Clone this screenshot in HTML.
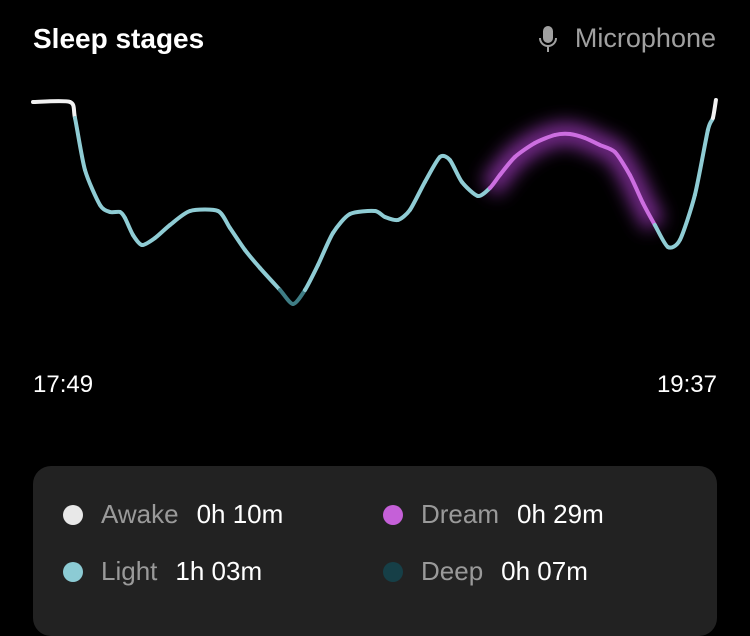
<!DOCTYPE html>
<html><head><meta charset="utf-8"><style>
body{margin:0;width:750px;height:619px;background:#000;overflow:hidden;font-family:"Liberation Sans",sans-serif;color:#fff;position:relative}
.abs{position:absolute}
#title{left:33px;top:23px;font-size:28px;font-weight:bold}
#mic{right:34px;top:23px;font-size:27px;color:#a0a0a0;display:flex;align-items:center;gap:18px}
.time{top:371px;font-size:24px}
#legend{left:33px;top:466px;width:684px;height:170px;background:#222;border-radius:18px}
.item{position:absolute;display:flex;align-items:center;font-size:26px}
.dot{width:20px;height:20px;border-radius:50%;margin-right:18px}
.lab{color:#9a9a9a;margin-right:18px}
</style></head><body>
<div id="title" class="abs">Sleep stages</div>
<div id="mic" class="abs">
<svg width="18" height="28" viewBox="0 0 18 28"><rect x="4" y="1" width="10" height="17" rx="5" fill="#a0a0a0"/><path d="M1 13 a8 8 0 0 0 16 0" stroke="#a0a0a0" stroke-width="2" fill="none"/><rect x="8" y="21" width="2" height="6" fill="#a0a0a0"/></svg>
<span>Microphone</span></div>
<svg id="chart" class="abs" style="left:0;top:0" width="750" height="360">
<defs>
<filter id="glow" x="-30%" y="-50%" width="160%" height="200%"><feGaussianBlur stdDeviation="9"/></filter>
</defs>
<g id="marks"></g>
</svg>
<div class="abs time" style="left:33px">17:49</div>
<div class="abs time" style="right:33px">19:37</div>
<div id="legend" class="abs">
<div class="item" style="left:30px;top:33px"><div class="dot" style="background:#e8e8e8"></div><span class="lab">Awake</span><span>0h 10m</span></div>
<div class="item" style="left:350px;top:33px"><div class="dot" style="background:#c560d8"></div><span class="lab">Dream</span><span>0h 29m</span></div>
<div class="item" style="left:30px;top:90px"><div class="dot" style="background:#8ccbd4"></div><span class="lab">Light</span><span>1h 03m</span></div>
<div class="item" style="left:350px;top:90px"><div class="dot" style="background:#163f47"></div><span class="lab">Deep</span><span>0h 07m</span></div>
</div>
<script>
// minutes since 17:49 and sleep depth (0 = awake, higher = deeper)
const times=[0,5.85,6.64,8.22,10.59,12.18,13.76,14.55,15.81,17.24,19.29,21.66,24.83,29.25,31.15,33.52,35.89,39.06,41.11,43.01,45.06,47.43,50.12,54.07,55.65,57.7,59.6,61.97,64.34,65.92,67.82,70.35,72.25,73.83,76.2,79.36,82.52,84.89,87.27,89.64,92.01,94.38,96.44,98.33,100.39,102.29,104.66,106.72,107.51,107.99];
const depths=[1,1,9,35,52.5,56,56,59,67.5,72.5,69,62.5,55.5,55.5,64,75,84,95,102,95,82.5,66.5,57,55.5,58.5,60,55,41,28.5,30,41,48,44,37.5,28.5,21.5,17.5,17,19,22.5,26,37.5,51.5,62.5,73.5,70,47.5,15,9,0];
const stages=["awake","awake","light","light","light","light","light","light","light","light","light","light","light","light","light","light","light","light","deep","light","light","light","light","light","light","light","light","light","light","light","light","light","light","dream","dream","dream","dream","dream","dream","dream","dream","dream","dream","light","light","light","light","light","light","awake"];
const X=t=>33+t*683/108, Y=d=>100+d*2;
const colors={awake:"#f2f2f2",light:"#8fccd4",dream:"#cc6ee0",deep:"#3f7d85"};
const prio={awake:3,dream:2,deep:1,light:0};
const pts=times.map((t,i)=>[X(t),Y(depths[i])]);
function seg(i){const p0=pts[Math.max(i-1,0)],p1=pts[i],p2=pts[i+1],p3=pts[Math.min(i+2,pts.length-1)];
const k=8;const c1=[p1[0]+(p2[0]-p0[0])/k,p1[1]+(p2[1]-p0[1])/k],c2=[p2[0]-(p3[0]-p1[0])/k,p2[1]-(p3[1]-p1[1])/k];
return `M${p1[0]},${p1[1]} C${c1[0]},${c1[1]} ${c2[0]},${c2[1]} ${p2[0]},${p2[1]}`;}
const g=document.getElementById('marks');const NS="http://www.w3.org/2000/svg";
let gd="";for(let i=0;i<pts.length-1;i++){if(stages[i]==="dream"||stages[i+1]==="dream")gd+=seg(i);}
const glow=document.createElementNS(NS,'path');glow.setAttribute('d',gd);glow.setAttribute('stroke','#b040d0');glow.setAttribute('stroke-width','22');glow.setAttribute('fill','none');glow.setAttribute('opacity','0.7');glow.setAttribute('filter','url(#glow)');


g.appendChild(glow);
for(let i=0;i<pts.length-1;i++){
 const a=stages[i],b=stages[i+1];const st=prio[a]>=prio[b]?a:b;
 const p=document.createElementNS(NS,'path');p.setAttribute('d',seg(i));p.setAttribute('stroke',colors[st]);p.setAttribute('stroke-width','4');p.setAttribute('fill','none');p.setAttribute('stroke-linecap','round');
 
 
 g.appendChild(p);}
</script>
</body></html>
